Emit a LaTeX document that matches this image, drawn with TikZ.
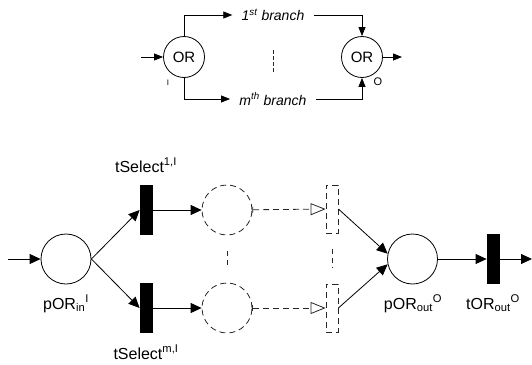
\documentclass[tikz,border=0pt]{standalone}
\usepackage{fontspec}
\setmainfont{Liberation Sans}
\usetikzlibrary{arrows.meta}
\begin{document}
\begin{tikzpicture}[x=1pt,y=-1pt,line width=0.8pt,
  lbl/.style={font=\fontsize{16}{18}\selectfont, inner sep=0pt},
  tlbl/.style={font=\fontsize{14}{16}\selectfont, inner sep=0pt},
  place/.style={circle, draw, minimum size=50pt, inner sep=0pt},
  dashy/.style={draw=black!85, dash pattern=on 6pt off 4pt},
  dplace/.style={place, dashy},
  trans/.style={rectangle, fill=black, minimum width=13pt, minimum height=50pt, inner sep=0pt},
  dtrans/.style={rectangle, dashy, minimum width=12pt, minimum height=48pt, inner sep=0pt},
  ornode/.style={circle, draw, minimum size=41pt, inner sep=0pt, font=\fontsize{15}{17}\selectfont},
  arr/.style={-{Triangle[length=11pt,width=10pt]}},
  sarr/.style={-{Triangle[length=9pt,width=7pt]}},
  darr/.style={dashy, {Bar[width=6pt]}-{Triangle[open,length=15pt,width=12pt]}},
  sep/.style={draw=black!85, dash pattern=on 5pt off 4pt, shorten <=16pt, shorten >=16pt},
  ]
\useasboundingbox (0,0) rectangle (532,364);
% top part
\node[ornode] (orL) at (184,57) {OR};
\node[ornode] (orR) at (362,57) {OR};
\coordinate (inT) at (141,57);
\coordinate (outT) at (402,57);
\draw[sarr] (inT) -- (orL);
\draw[sarr] (orR) -- (outT);
\node[tlbl, inner xsep=9pt] (b1) at (273,15) {\itshape 1\textsuperscript{st} branch};
\node[tlbl, inner xsep=9pt] (bm) at (273,99) {\itshape m\textsuperscript{th} branch};
\draw[sarr] (orL) |- (b1);
\draw[sarr] (b1) -| (orR);
\draw[sarr] (orL) |- (bm);
\draw[sarr] (bm) -| (orR);
\coordinate (dv1) at (273,50);
\coordinate (dv2) at (273,73);
\draw[draw=black!85, dash pattern=on 4pt off 2pt] (dv1) -- (dv2);
\node[font=\fontsize{8}{9}\selectfont, inner sep=0pt] (iL) at (168,83) {I};
\node[font=\fontsize{11}{12}\selectfont, inner sep=0pt] (oL) at (378,82) {O};
% bottom part
\node[place] (pin) at (66,259) {};
\node[trans] (ts1) at (146.5,210) {};
\node[trans] (tsm) at (146.5,308) {};
\node[dplace] (d1) at (227,210) {};
\node[dplace] (dm) at (227,308) {};
\node[dtrans] (r1) at (332,209) {};
\node[dtrans] (rm) at (332,308) {};
\node[place] (pout) at (412.5,259) {};
\node[trans] (tout) at (493.5,259) {};
\coordinate (inB) at (8,259);
\coordinate (outB) at (532,259);
\draw[arr] (inB) -- (pin);
\draw[arr] (pin.east) -- (ts1.west);
\draw[arr] (pin.east) -- (tsm.west);
\draw[arr] (ts1) -- (d1);
\draw[arr] (tsm) -- (dm);
\draw[darr] (d1) -- (r1);
\draw[darr] (dm) -- (rm);
\draw[arr] (r1.east) -- (pout.168);
\draw[arr] (rm.east) -- (pout.192);
\draw[arr] (pout) -- (tout);
\draw[arr] (tout) -- (outB);
\draw[sep] (d1) -- (dm);
\draw[sep] (r1) -- (rm);
\node[lbl, anchor=base] (l1) at (146,172) {tSelect\textsuperscript{1,I}};
\node[lbl, anchor=base] (lm) at (146,359) {tSelect\textsuperscript{m,I}};
\node[lbl, anchor=base] (lpin) at (66,309) {pOR\textsubscript{in}\textsuperscript{I}};
\node[lbl, anchor=base] (lpout) at (413,309) {pOR\textsubscript{out}\textsuperscript{O}};
\node[lbl, anchor=base] (ltout) at (493,309) {tOR\textsubscript{out}\textsuperscript{O}};
\end{tikzpicture}
\end{document}
